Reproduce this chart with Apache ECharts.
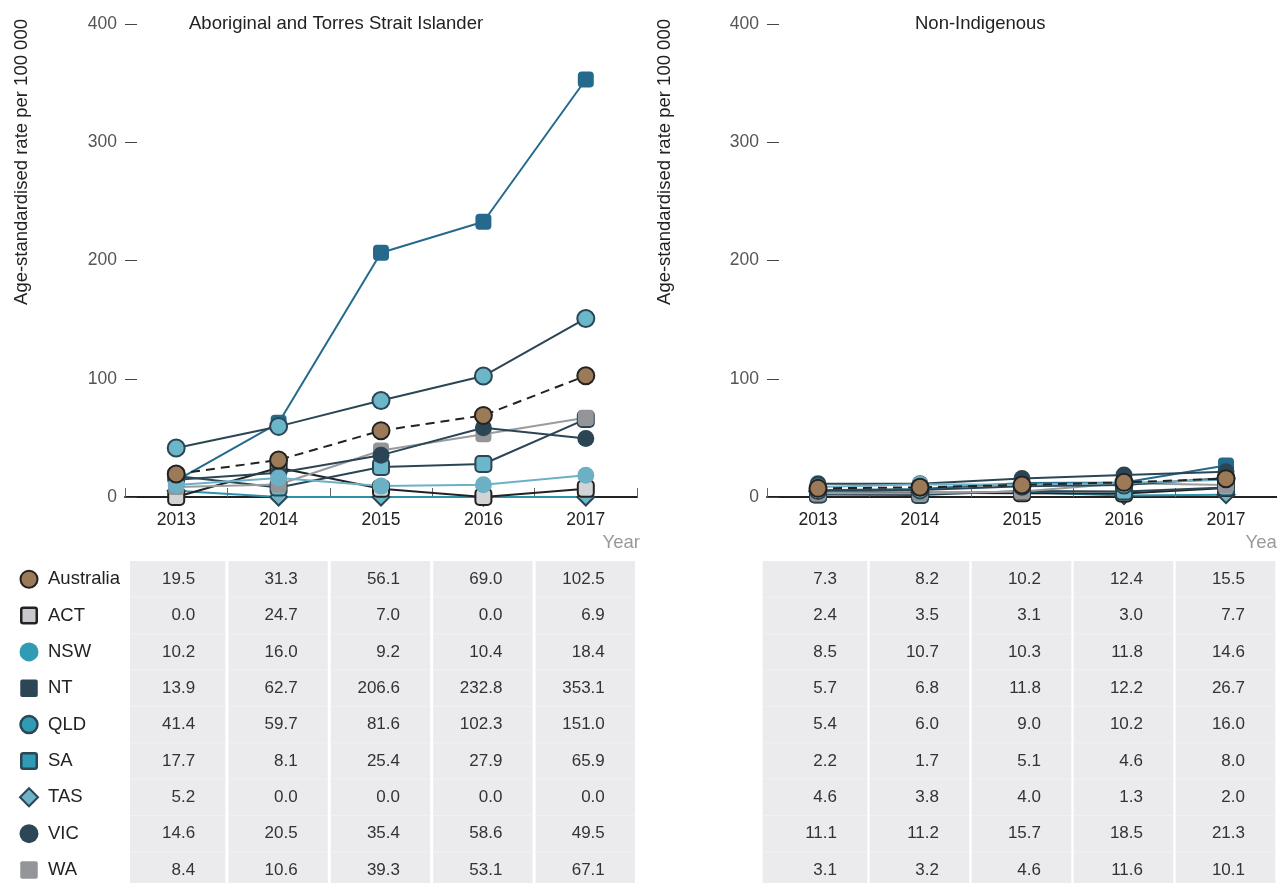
<!DOCTYPE html>
<html>
<head>
<meta charset="utf-8">
<script src="https://cdn.jsdelivr.net/npm/echarts@6/dist/echarts.min.js"></script>
<style>
  html, body { margin: 0; padding: 0; background: #fff; }
  #chart { width: 1277px; height: 883px; }
</style>
</head>
<body>
<div id="chart"></div>
<script>
// Years on the x axis
const years = ['2013', '2014', '2015', '2016', '2017'];
// Y axis ticks
const yTicks = [0, 100, 200, 300, 400];
// Table / legend row order
const regions = ['Australia', 'ACT', 'NSW', 'NT', 'QLD', 'SA', 'TAS', 'VIC', 'WA'];

// Aboriginal and Torres Strait Islander rates (per 100 000)
const indAustralia = [19.5, 31.3, 56.1, 69.0, 102.5];
const indACT       = [0.0, 24.7, 7.0, 0.0, 6.9];
const indNSW       = [10.2, 16.0, 9.2, 10.4, 18.4];
const indNT        = [13.9, 62.7, 206.6, 232.8, 353.1];
const indQLD       = [41.4, 59.7, 81.6, 102.3, 151.0];
const indSA        = [17.7, 8.1, 25.4, 27.9, 65.9];
const indTAS       = [5.2, 0.0, 0.0, 0.0, 0.0];
const indVIC       = [14.6, 20.5, 35.4, 58.6, 49.5];
const indWA        = [8.4, 10.6, 39.3, 53.1, 67.1];

// Non-Indigenous rates (per 100 000)
const nonAustralia = [7.3, 8.2, 10.2, 12.4, 15.5];
const nonACT       = [2.4, 3.5, 3.1, 3.0, 7.7];
const nonNSW       = [8.5, 10.7, 10.3, 11.8, 14.6];
const nonNT        = [5.7, 6.8, 11.8, 12.2, 26.7];
const nonQLD       = [5.4, 6.0, 9.0, 10.2, 16.0];
const nonSA        = [2.2, 1.7, 5.1, 4.6, 8.0];
const nonTAS       = [4.6, 3.8, 4.0, 1.3, 2.0];
const nonVIC       = [11.1, 11.2, 15.7, 18.5, 21.3];
const nonWA        = [3.1, 3.2, 4.6, 11.6, 10.1];

const indData = { Australia: indAustralia, ACT: indACT, NSW: indNSW, NT: indNT, QLD: indQLD,
                  SA: indSA, TAS: indTAS, VIC: indVIC, WA: indWA };
const nonData = { Australia: nonAustralia, ACT: nonACT, NSW: nonNSW, NT: nonNT, QLD: nonQLD,
                  SA: nonSA, TAS: nonTAS, VIC: nonVIC, WA: nonWA };

const FONT = "'Liberation Sans', Arial, Helvetica, sans-serif";
const DARK = '#2b4555';

// Line + marker styling per jurisdiction
const lineStyles = {
  Australia: { line: '#222222', type: [9, 6], symbol: 'circle', size: 17, fill: '#9c7a58', border: '#222222', bw: 2 },
  ACT:       { line: '#222222', type: 'solid', symbol: 'roundRect', size: 16, fill: '#d2d3d5', border: '#222222', bw: 2 },
  NSW:       { line: '#6cb0c6', type: 'solid', symbol: 'circle', size: 17, fill: '#6cb0c6', border: '#6cb0c6', bw: 0 },
  NT:        { line: '#256a8c', type: 'solid', symbol: 'roundRect', size: 16, fill: '#256a8c', border: '#256a8c', bw: 0 },
  QLD:       { line: DARK, type: 'solid', symbol: 'circle', size: 17, fill: '#6cb6c9', border: DARK, bw: 2 },
  SA:        { line: DARK, type: 'solid', symbol: 'roundRect', size: 16, fill: '#6cb6c9', border: DARK, bw: 2 },
  TAS:       { line: '#2a93ab', type: 'solid', symbol: 'diamond', size: 17, fill: '#6cb6c9', border: DARK, bw: 2 },
  VIC:       { line: DARK, type: 'solid', symbol: 'circle', size: 17, fill: DARK, border: DARK, bw: 0 },
  WA:        { line: '#9a9b9e', type: 'solid', symbol: 'roundRect', size: 16, fill: '#939598', border: '#939598', bw: 0 }
};

// Legend swatches beside the table
const legendStyles = {
  Australia: { shape: 'circle',  fill: '#9c7a58', border: '#222222', bw: 2 },
  ACT:       { shape: 'square',  fill: '#c8c9cc', border: '#222222', bw: 2.5 },
  NSW:       { shape: 'circle',  fill: '#2f9bb5', border: null, bw: 0 },
  NT:        { shape: 'square',  fill: '#2c4655', border: null, bw: 0 },
  QLD:       { shape: 'circle',  fill: '#2f9bb5', border: '#2c4655', bw: 2.5 },
  SA:        { shape: 'square',  fill: '#2f9bb5', border: '#2c4655', bw: 2.5 },
  TAS:       { shape: 'diamond', fill: '#6fb3c8', border: '#2c4655', bw: 2 },
  VIC:       { shape: 'circle',  fill: '#2c4655', border: null, bw: 0 },
  WA:        { shape: 'square',  fill: '#939598', border: null, bw: 0 }
};

// Back-to-front drawing order of the lines
const drawOrder = ['TAS', 'ACT', 'SA', 'NT', 'WA', 'VIC', 'QLD', 'NSW', 'Australia'];

const grids = [
  { left: 125, top: 24, width: 512, height: 473 },
  { left: 767, top: 24, width: 513, height: 473 }
];

function makeXAxis(i) {
  return {
    type: 'category', gridIndex: i, data: years, boundaryGap: true,
    axisLine: { show: true, lineStyle: { color: '#222', width: 2 } },
    axisTick: { show: true, inside: true, length: 9, lineStyle: { color: '#666', width: 1 } },
    axisLabel: { color: '#222', fontSize: 17.5, fontFamily: FONT, margin: 14 },
    splitLine: { show: false }
  };
}
function makeYAxis(i) {
  return {
    type: 'value', gridIndex: i, min: yTicks[0], max: yTicks[yTicks.length - 1], interval: 100,
    axisLine: { show: false },
    axisTick: { show: true, inside: true, length: 12, lineStyle: { color: '#444', width: 1 } },
    axisLabel: { color: '#555', fontSize: 17.5, fontFamily: FONT, margin: 8 },
    splitLine: { show: false }
  };
}

function makeSeries(dataMap, gi) {
  return drawOrder.map(name => {
    const s = lineStyles[name];
    return {
      name: name, type: 'line', xAxisIndex: gi, yAxisIndex: gi,
      data: dataMap[name],
      symbol: s.symbol, symbolSize: s.size, showAllSymbol: true,
      lineStyle: { color: s.line, width: 2, type: s.type },
      itemStyle: { color: s.fill, borderColor: s.border, borderWidth: s.bw, opacity: 1 },
      emphasis: { disabled: true },
      animation: false
    };
  });
}

const chart = echarts.init(document.getElementById('chart'), null, { renderer: 'canvas' });
chart.setOption({
  backgroundColor: '#ffffff',
  animation: false,
  grid: grids,
  xAxis: [makeXAxis(0), makeXAxis(1)],
  yAxis: [makeYAxis(0), makeYAxis(1)],
  series: makeSeries(indData, 0).concat(makeSeries(nonData, 1))
});

// Static text, table cells and legend placed from the axes' own scales
function buildGraphics() {
  const els = [];
  const panelTitles = ['Aboriginal and Torres Strait Islander', 'Non-Indigenous'];
  const titleX = [189, 915];
  const yNameX = [22, 665];
  const firstCellInset = [5, -4];
  const tables = [indData, nonData];
  const rowTop = 561, rowH = 36.35;

  for (let g = 0; g < 2; g++) {
    els.push({ type: 'text', x: titleX[g], y: 24,
      style: { text: panelTitles[g], fill: '#222', fontSize: 18.5, fontFamily: FONT, verticalAlign: 'middle' } });
    els.push({ type: 'text', x: yNameX[g], y: 162, rotation: Math.PI / 2,
      style: { text: 'Age-standardised rate per 100 000', fill: '#222', fontSize: 18.5, fontFamily: FONT,
               align: 'center', verticalAlign: 'middle' } });
    const gridRight = grids[g].left + grids[g].width;
    els.push({ type: 'text', x: gridRight + 3, y: 543,
      style: { text: 'Year', fill: '#999', fontSize: 18.5, fontFamily: FONT, align: 'right', verticalAlign: 'middle' } });

    const bandW = grids[g].width / years.length;
    years.forEach((yr, c) => {
      const cx = chart.convertToPixel({ xAxisIndex: g }, yr);
      const x0 = cx - bandW / 2 + (c === 0 ? firstCellInset[g] : 1);
      const x1 = cx + bandW / 2 - 2;
      els.push({ type: 'rect', shape: { x: x0, y: rowTop, width: x1 - x0, height: rowH * regions.length },
        style: { fill: '#ebebed' }, z: 1 });
      regions.forEach((r, k) => {
        if (k > 0) {
          els.push({ type: 'rect', shape: { x: x0, y: rowTop + rowH * k - 0.5, width: x1 - x0, height: 1 },
            style: { fill: '#f1f1f3' }, z: 2 });
        }
        const v = tables[g][r][c];
        els.push({ type: 'text', x: cx + 19, y: rowTop + rowH * (k + 0.5), z: 3,
          style: { text: v.toFixed(1), fill: '#333', fontSize: 17, fontFamily: FONT,
                   align: 'right', verticalAlign: 'middle' } });
      });
    });
  }

  // Legend column
  regions.forEach((r, k) => {
    const cy = rowTop + rowH * (k + 0.5);
    const cx = 29;
    const L = legendStyles[r];
    const style = { fill: L.fill, stroke: L.border || null, lineWidth: L.bw };
    if (L.shape === 'circle') {
      els.push({ type: 'circle', shape: { cx: cx, cy: cy, r: L.border ? 8.5 : 9.5 }, style: style, z: 3 });
    } else if (L.shape === 'square') {
      const s = L.border ? 15.5 : 17.5;
      els.push({ type: 'rect', shape: { x: cx - s / 2, y: cy - s / 2, width: s, height: s, r: 2 }, style: style, z: 3 });
    } else {
      els.push({ type: 'polygon', shape: { points: [[cx, cy - 9], [cx + 9, cy], [cx, cy + 9], [cx - 9, cy]] },
        style: style, z: 3 });
    }
    els.push({ type: 'text', x: 48, y: cy, z: 3,
      style: { text: r, fill: '#222', fontSize: 18.5, fontFamily: FONT, verticalAlign: 'middle' } });
  });
  return els;
}

chart.setOption({ graphic: { elements: buildGraphics() } });
</script>
</body>
</html>
